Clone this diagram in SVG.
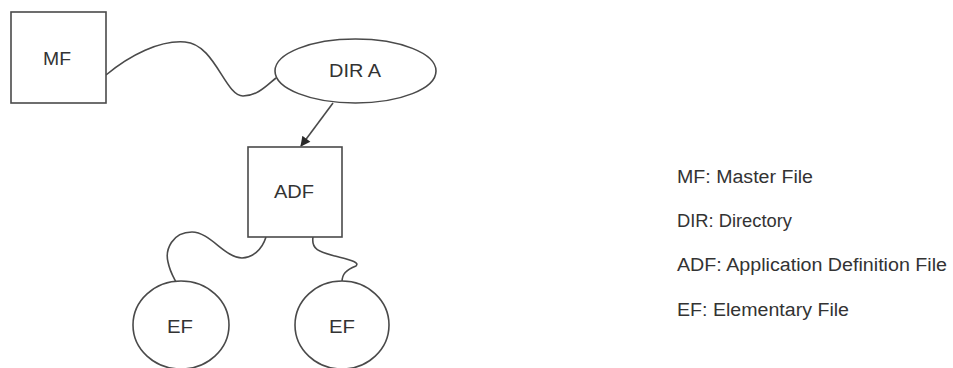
<svg xmlns="http://www.w3.org/2000/svg" width="953" height="368" viewBox="0 0 953 368">
  <style>
    .shape { fill: #ffffff; stroke: #4a4a4a; stroke-width: 1.6; }
    .wire { fill: none; stroke: #4a4a4a; stroke-width: 1.6; }
    .label { font-family: "Liberation Sans", Arial, sans-serif; font-size: 18px; fill: #333333; }
    .mid { text-anchor: middle; }
  </style>
  <defs>
    <marker id="arrowhead" viewBox="0 0 10 10" refX="9" refY="5" markerWidth="11" markerHeight="10" orient="auto" markerUnits="userSpaceOnUse">
      <path d="M0,0 L10,5 L0,10 z" fill="#2a2a2a"/>
    </marker>
  </defs>
  <rect width="953" height="368" fill="#ffffff"/>

  <g id="connectors">
    <path class="wire" d="M106,75 C130,55 160,40 185,42 C215,44 225,96 243,96 C258,96 268,84 276,78"/>
    <path class="wire" d="M333,103 L301,146" marker-end="url(#arrowhead)"/>
    <path class="wire" d="M266,237 C262,250 252,258 242,258 C225,258 210,232 192,232 C172,232 165,250 168,262 C170,272 174,278 176,282"/>
    <path class="wire" d="M313,237 C311,250 320,252 335,256 C350,260 360,262 356,266 C346,270 342,274 342,282"/>
  </g>

  <g id="mf">
    <rect class="shape" x="11" y="12" width="95" height="91"/>
    <text class="label mid" x="57" y="65" textLength="28" lengthAdjust="spacingAndGlyphs">MF</text>
  </g>

  <g id="dir-a">
    <ellipse class="shape" cx="355.5" cy="71" rx="80.5" ry="32"/>
    <text class="label mid" x="355" y="77" textLength="52" lengthAdjust="spacingAndGlyphs">DIR A</text>
  </g>

  <g id="adf">
    <rect class="shape" x="248" y="147" width="94" height="90"/>
    <text class="label mid" x="294" y="198" textLength="40" lengthAdjust="spacingAndGlyphs">ADF</text>
  </g>

  <g id="ef-left">
    <ellipse class="shape" cx="181" cy="325" rx="48" ry="44"/>
    <text class="label mid" x="180" y="333" textLength="26" lengthAdjust="spacingAndGlyphs">EF</text>
  </g>

  <g id="ef-right">
    <ellipse class="shape" cx="342" cy="325" rx="47" ry="44"/>
    <text class="label mid" x="342" y="333" textLength="26" lengthAdjust="spacingAndGlyphs">EF</text>
  </g>

  <g id="legend">
    <text class="label" x="677" y="183" textLength="136" lengthAdjust="spacingAndGlyphs">MF: Master File</text>
    <text class="label" x="677" y="227" textLength="115" lengthAdjust="spacingAndGlyphs">DIR: Directory</text>
    <text class="label" x="677" y="271" textLength="270" lengthAdjust="spacingAndGlyphs">ADF: Application Definition File</text>
    <text class="label" x="677" y="316" textLength="172" lengthAdjust="spacingAndGlyphs">EF: Elementary File</text>
  </g>
</svg>
